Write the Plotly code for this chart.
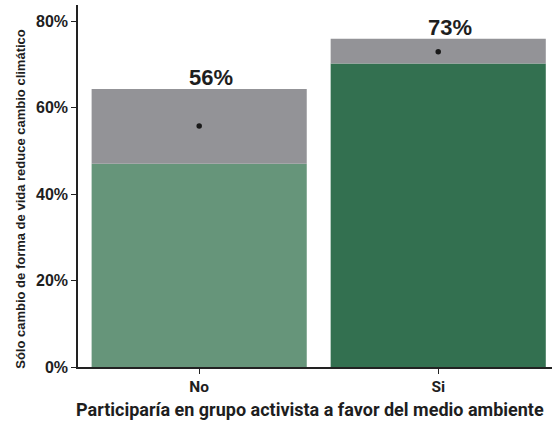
import plotly.graph_objects as go

categories = ["No", "Si"]
ci_lower = [47.0, 70.2]
ci_upper = [64.3, 75.9]
means = [55.7, 72.9]
labels = ["56%", "73%"]
bar_colors = ["#66957a", "#337050"]
y_ticks = [0, 20, 40, 60, 80]
y_tick_text = ["0%", "20%", "40%", "60%", "80%"]
x_title = "Participaría en grupo activista a favor del medio ambiente"
y_title = "Sólo cambio de forma de vida reduce cambio climático"

TXT = "#1e1e1e"
ROB = "Roboto"
ARI = "Liberation Sans, Arial"

fig = go.Figure()
fig.add_trace(go.Bar(x=categories, y=ci_lower, marker=dict(color=bar_colors, line=dict(width=0)),
                     width=0.9, showlegend=False, hoverinfo="skip"))
fig.add_trace(go.Bar(x=categories, y=[u - l for u, l in zip(ci_upper, ci_lower)], base=ci_lower,
                     marker=dict(color="#939397", line=dict(width=0)),
                     width=0.9, showlegend=False, hoverinfo="skip"))
fig.add_trace(go.Scatter(x=categories, y=means, mode="markers",
                         marker=dict(color="#1a1a1a", size=5.5), showlegend=False))
for c, u, t in zip(categories, ci_upper, labels):
    fig.add_annotation(x=c, y=u, text=t, showarrow=False, yanchor="bottom", yshift=-3, xshift=12,
                       font=dict(family=ARI, size=22, color=TXT, weight="bold"))

# axis titles
fig.add_annotation(xref="paper", yref="paper", x=-0.008, y=-0.118, xanchor="left", yanchor="middle",
                   text=x_title, showarrow=False,
                   font=dict(family=ROB, size=18, color=TXT, weight="bold"))
fig.add_annotation(xref="paper", yref="paper", x=-0.12, y=0.465, xanchor="center", yanchor="middle",
                   text=y_title, textangle=-90, showarrow=False,
                   font=dict(family=ARI, size=13, color=TXT, weight="bold"))

fig.update_layout(
    barmode="overlay",
    width=552, height=422,
    margin=dict(l=78, r=0, t=5, b=54.5),
    paper_bgcolor="white", plot_bgcolor="white",
    xaxis=dict(range=[-0.507, 1.476], showline=True, linecolor="#222222", linewidth=1.5,
               ticks="outside", ticklen=5, tickcolor="#222222", showgrid=False, automargin=False,
               tickfont=dict(family=ROB, size=15.5, color=TXT, weight="bold")),
    yaxis=dict(range=[0, 83.7], showline=True, linecolor="#222222", linewidth=1.5,
               ticks="outside", ticklen=5, tickcolor="#222222", showgrid=False, zeroline=False,
               automargin=False, tickvals=y_ticks, ticktext=y_tick_text,
               tickfont=dict(family=ARI, size=16, color=TXT, weight="bold")),
)

fig.write_html("out.html", config={"displayModeBar": False},
               post_script="document.body.style.margin='0';")
